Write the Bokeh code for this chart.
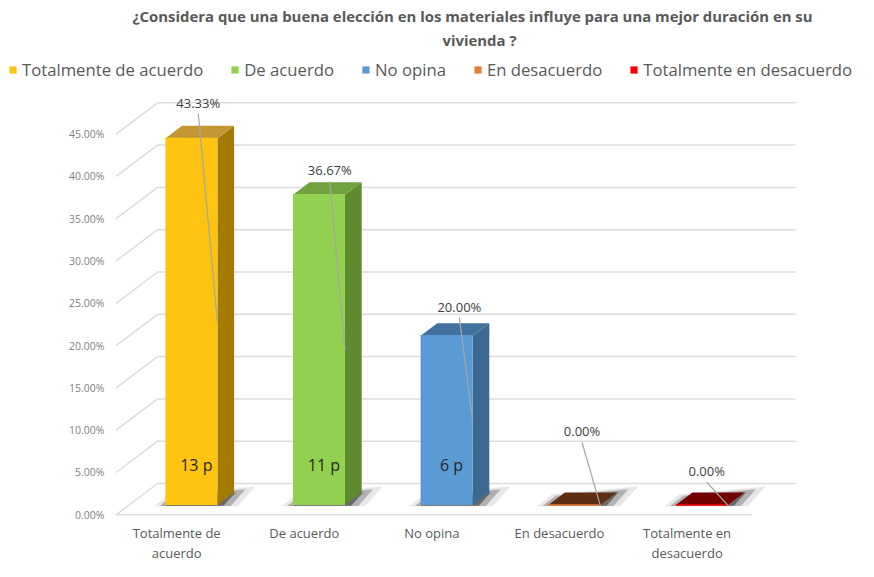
from bokeh.plotting import figure
from bokeh.models import Range1d, Legend, LegendItem, Title
from bokeh.core.properties import value
from bokeh.embed import file_html
from bokeh.resources import INLINE

# ---------------- data ----------------
categories = ["Totalmente de acuerdo", "De acuerdo", "No opina", "En desacuerdo", "Totalmente en desacuerdo"]
axis_labels = ["Totalmente de\nacuerdo", "De acuerdo", "No opina", "En desacuerdo", "Totalmente en\ndesacuerdo"]
percent = [43.33, 36.67, 20.00, 0.00, 0.00]
counts = [13, 11, 6, 0, 0]
y_ticks = [0, 5, 10, 15, 20, 25, 30, 35, 40, 45]
y_tick_labels = ["0.00%", "5.00%", "10.00%", "15.00%", "20.00%", "25.00%", "30.00%", "35.00%", "40.00%", "45.00%"]
title_line1 = "¿Considera que una buena elección en los materiales influye para una mejor duración en su"
title_line2 = "vivienda ?"

# ---------------- style ----------------
front_colors = ["#FFC311", "#92D050", "#5B9BD5", "#ED7D31", "#FF0000"]
side_colors = ["#A37B00", "#5F8B30", "#3C6892", "#8A4A1E", "#990000"]
top_colors = ["#C39634", "#70A13D", "#43719E", "#5C2E12", "#720000"]
label_dx_px = [7, 11, 13, 8, 5]
label_dy = [4.25, 2.9, 3.45, 8.7, 4.0]

PX_X = 130.0   # reference pixels per category unit
PX_Y = 8.7     # reference pixels per percent unit
HW = 26.5 / PX_X
DX = 17 / PX_X
DY = 13 / PX_Y
BASE = 10 / PX_Y
BACK = 3.7
FL, BL, FR, BR = -0.59, -0.265, 4.39, 4.7346
FONT = "Open Sans"

p = figure(width=858, height=561, title=None, output_backend="svg", toolbar_location=None,
           x_range=Range1d(-1.496, 5.228), y_range=Range1d(-5.52, 54.88),
           min_border_left=0, min_border_right=0, min_border_top=50, min_border_bottom=0)
p.outline_line_color = None
p.xgrid.visible = False
p.ygrid.visible = False
p.xaxis.visible = False
p.yaxis.visible = False
p.background_fill_color = "white"
p.border_fill_color = "white"

# back wall gridlines, left diagonals, floor front edge
n = len(y_ticks)
p.segment(x0=[BL] * n, y0=[t + BACK for t in y_ticks], x1=[BR] * n, y1=[t + BACK for t in y_ticks],
          line_color="#DCDCDC", line_width=1.5)
p.segment(x0=[FL] * n, y0=y_ticks, x1=[BL] * n, y1=[t + BACK for t in y_ticks],
          line_color="#DCDCDC", line_width=1.5)
p.segment(x0=[FL], y0=[0], x1=[FR], y1=[0], line_color="#DCDCDC", line_width=1.5)

# y tick labels (front edge of the floor/wall)
p.text(x=[FL - 12 / PX_X] * n, y=y_ticks, text=y_tick_labels, text_align="right", text_baseline="middle",
       text_font=value(FONT), text_font_size="10.5px", text_color="#7F7F7F")

# shadows (soft dark blobs on the floor)
for i in range(len(categories)):
    for scale, alpha in [(1.12, 0.10), (0.95, 0.25), (0.78, 0.45)]:
        pts = [(-34, -1), (-20, 10), (58, 17), (42, -1)]
        xs = [i + scale * a / PX_X for a, b in pts]
        ys = [BASE + scale * b / PX_Y for a, b in pts]
        p.patch(xs, ys, fill_color="#111111", fill_alpha=alpha, line_color=None)

front_renderers = []
for i, v in enumerate(percent):
    top = BASE + v
    p.patch([i + HW, i + HW + DX, i + HW + DX, i + HW], [BASE, BASE + DY, top + DY, top],
            fill_color=side_colors[i], line_color=None)
    r = p.quad(left=i - HW, right=i + HW, bottom=BASE, top=top,
               fill_color=front_colors[i], line_color=None)
    front_renderers.append(r)
    p.patch([i - HW, i - HW + DX, i + HW + DX, i + HW], [top, top + DY, top + DY, top],
            fill_color=top_colors[i], line_color=None)
    p.segment(x0=[i - HW], y0=[top], x1=[i + HW], y1=[top], line_color=front_colors[i], line_width=1.5)

# leader lines and data labels
lx = [i + label_dx_px[i] / PX_X for i in range(len(percent))]
ly = [BASE + v + label_dy[i] for i, v in enumerate(percent)]
p.segment(x0=lx, y0=[y - 1.3 for y in ly], x1=[i + HW for i in range(len(percent))],
          y1=[BASE + v / 2 for v in percent], line_color="#A6A6A6", line_width=1.2)
p.text(x=lx, y=ly, text=["%.2f%%" % v for v in percent], text_align="center", text_baseline="middle",
       text_font=value(FONT), text_font_size="13px", text_color="#404040")

# count labels
cx = [i + 5 / PX_X for i, c in enumerate(counts) if c > 0]
cy = [5.9 for c in counts if c > 0]
p.text(x=cx, y=cy, text=["%d p" % c for c in counts if c > 0], text_align="center",
       text_baseline="middle", text_font=value(FONT), text_font_size="16px", text_color="#262626")

# category labels
p.text(x=[i - 15 / PX_X for i in range(len(categories))], y=[-1.1] * len(categories), text=axis_labels,
       text_align="center", text_baseline="top", text_line_height=1.1,
       text_font=value(FONT), text_font_size="13px", text_color="#595959")

legend = Legend(items=[LegendItem(label=c, renderers=[front_renderers[i]]) for i, c in enumerate(categories)],
                orientation="horizontal", location=(8, 480), glyph_width=9, glyph_height=9,
                spacing=27, label_standoff=5, padding=0, margin=0, border_line_color=None,
                background_fill_alpha=0, label_text_font=FONT, label_text_font_size="16.7px",
                label_text_color="#595959")
p.add_layout(legend, "center")
p.add_layout(Title(text=title_line2, align="left", offset=442, text_font=FONT, text_font_size="14.9px",
                   text_font_style="bold", text_color="#595959", standoff=2), "above")
p.add_layout(Title(text=title_line1, align="left", offset=132, text_font=FONT, text_font_size="14.9px",
                   text_font_style="bold", text_color="#595959", standoff=2), "above")

open("out.html", "w").write(file_html(p, INLINE))
